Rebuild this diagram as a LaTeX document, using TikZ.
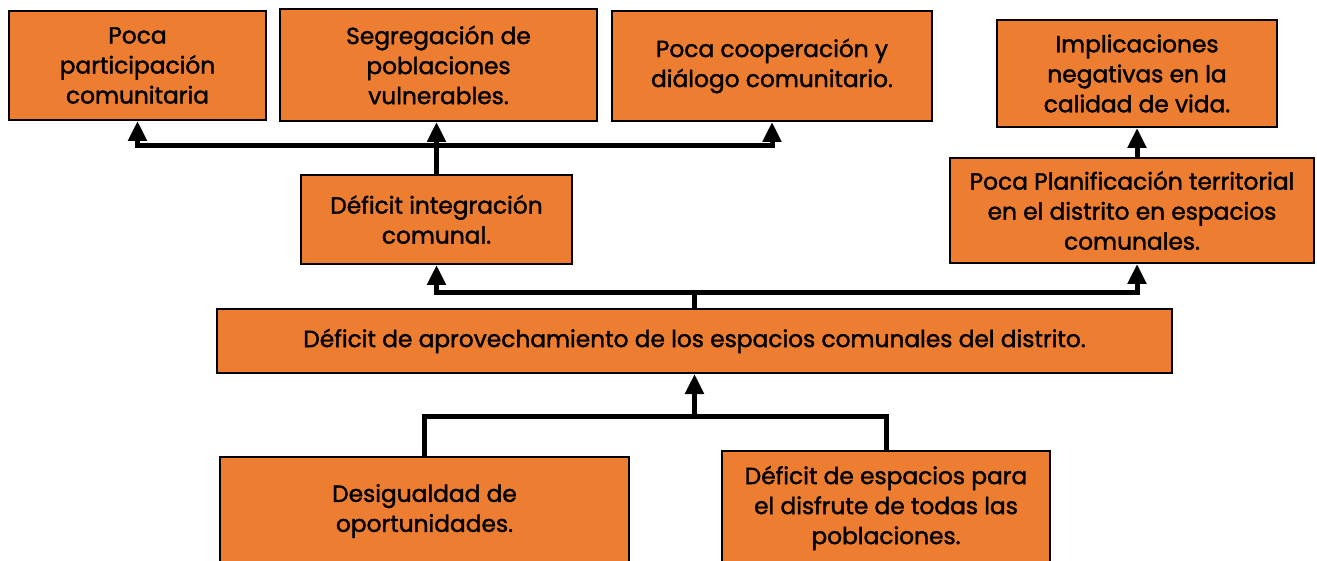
\documentclass[tikz,border=0pt]{standalone}
\usepackage{fontspec}
\setmainfont{Poppins}
\newfontfamily\boxfont{Poppins}[FakeBold=1.6]
\usetikzlibrary{arrows.meta}
\definecolor{boxorange}{HTML}{ED7D31}
\begin{document}
\begin{tikzpicture}[x=1pt,y=-1pt,
  box/.style={draw=black, line width=2pt, fill=boxorange, align=center, inner sep=0pt,
    font=\boxfont\fontsize{23.3}{30}\selectfont},
  conn/.style={line width=5pt},
  arr/.style={line width=5pt, -{Triangle[width=18pt,length=20pt]}}]
\useasboundingbox (0,0) rectangle (1317,561);
\clip (0,0) rectangle (1317,561);
\node[box, minimum width=257pt, minimum height=109pt] (b1) at (137.5,65.5) {Poca\\participación\\comunitaria};
\node[box, minimum width=317pt, minimum height=112pt] (b2) at (438.5,65) {Segregación de\\poblaciones\\vulnerables.};
\node[box, minimum width=320pt, minimum height=110pt] (b3) at (772,66) {Poca cooperación y\\diálogo comunitario.};
\node[box, minimum width=280pt, minimum height=107pt] (b4) at (1137,73.5) {Implicaciones\\negativas en la\\calidad de vida.};
\node[box, minimum width=271pt, minimum height=89pt] (b5) at (436.5,219.5) {Déficit integración\\comunal.};
\node[box, minimum width=364pt, minimum height=105pt] (b6) at (1132,210.5) {Poca Planificación territorial\\en el distrito en espacios\\comunales.};
\node[box, minimum width=955pt, minimum height=64pt] (b7) at (694.5,341) {Déficit de aprovechamiento de los espacios comunales del distrito.};
\node[box, minimum width=409pt, minimum height=108pt] (b8) at (424.5,511) {Desigualdad de\\oportunidades.};
\node[box, minimum width=328pt, minimum height=114pt] (b9) at (886,508) {Déficit de espacios para\\el disfrute de todas las\\poblaciones.};
\coordinate (bus1) at (0,146);
\coordinate (bus2) at (0,293);
\coordinate (bus3) at (0,416);
\draw[arr] (b5.north) -- (b5.north |- b2.south);
\draw[arr] (b5.north |- bus1) -| (b1.south);
\draw[arr] (b5.north |- bus1) -| (b3.south);
\draw[arr] (b4.south |- b6.north) -- (b4.south);
\draw[conn] (b7.north) -- (b7.north |- bus2);
\draw[arr] (b7.north |- bus2) -| (b5.south);
\draw[arr] (b7.north |- bus2) -| (b4.south |- b6.south);
\draw[conn] (b8.north) |- (b7.south |- bus3) -| (b9.north);
\draw[arr] (b7.south |- bus3) -- (b7.south);
\end{tikzpicture}
\end{document}
